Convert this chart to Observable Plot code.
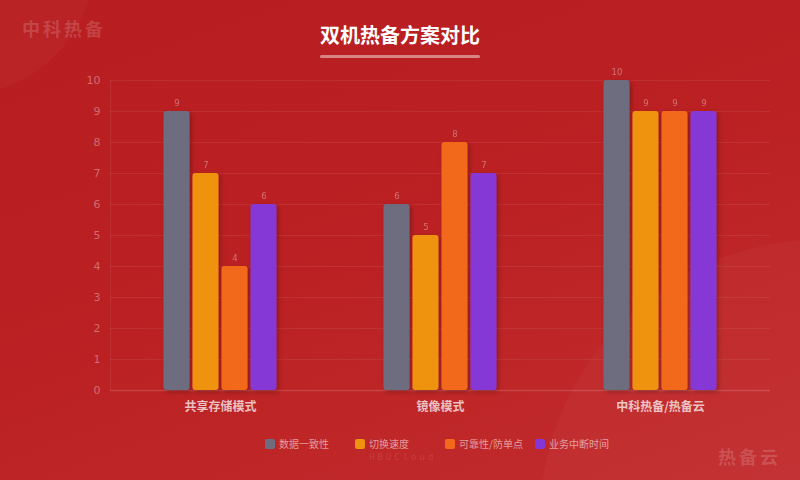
<!DOCTYPE html>
<html><head><meta charset="utf-8">
<script src="https://cdn.jsdelivr.net/npm/d3@7"></script>
<script src="https://cdn.jsdelivr.net/npm/@observablehq/plot@0.6"></script>
<style>
html,body{margin:0;padding:0;}
#wrap{position:relative;width:800px;height:480px;overflow:hidden;
 background:linear-gradient(160deg,#b81e21 0%,#bb2123 50%,#c22c2e 100%);
 font-family:"Noto Sans CJK SC","Noto Sans",sans-serif;}
.circ{position:absolute;border-radius:50%;}
#chart{position:absolute;left:0;top:0;}
#title{position:absolute;left:0;width:800px;top:20px;text-align:center;color:#fff;font-size:20px;font-weight:bold;}
#uline{position:absolute;left:320px;top:55px;width:160px;height:3px;border-radius:2px;background:rgba(255,255,255,0.45);}
.wm{position:absolute;color:rgba(255,255,255,0.16);font-weight:bold;letter-spacing:3px;}
#legend{position:absolute;top:436px;left:0;width:800px;height:20px;}
.li{position:absolute;top:0;font-size:10px;color:rgba(255,255,255,0.55);line-height:14px;}
.li span.sw{position:absolute;left:0;top:3px;width:10px;height:10px;border-radius:2px;}
.li span.t{position:absolute;left:14px;top:1px;white-space:nowrap;}
#hbu{position:absolute;left:369px;top:452px;font-family:"DejaVu Sans Mono",monospace;font-size:9px;line-height:10px;letter-spacing:3px;color:rgba(255,255,255,0.12);}
</style></head>
<body><div id="wrap">
<div class="circ" style="left:-175px;top:-175px;width:270px;height:270px;background:rgba(255,255,255,0.025);"></div>
<div class="circ" style="left:540px;top:240px;width:560px;height:560px;background:rgba(255,255,255,0.03);"></div>
<div id="chart"></div>
<div id="title">双机热备方案对比</div>
<div id="uline"></div>
<div class="wm" style="left:22px;top:15px;font-size:18px;">中科热备</div>
<div class="wm" style="left:718px;top:443px;font-size:18px;">热备云</div>
<div id="hbu">HBUCloud</div>
<div id="legend"></div>
</div>
<script>
const categories = ["共享存储模式","镜像模式","中科热备/热备云"];
const seriesNames = ["数据一致性","切换速度","可靠性/防单点","业务中断时间"];
const seriesColors = ["#6e6d80","#ef9210","#f2691b","#8537d5"];
const valuesConsistency = [9,6,10];
const valuesSwitchSpeed = [7,5,9];
const valuesReliability = [4,8,9];
const valuesDowntime = [6,7,9];
const yTicks = [0,1,2,3,4,5,6,7,8,9,10];

const allValues = [valuesConsistency,valuesSwitchSpeed,valuesReliability,valuesDowntime];
const data = [];
categories.forEach((c,i)=>seriesNames.forEach((s,j)=>data.push({cat:c,series:s,value:allValues[j][i]})));

const plot = Plot.plot({
  width:800, height:480,
  marginTop:80, marginBottom:90, marginLeft:110, marginRight:30,
  style:{background:"transparent",fontFamily:"'Noto Sans CJK SC','Noto Sans',sans-serif"},
  fx:{domain:categories, padding:0, round:false, label:null, tickSize:0, tickPadding:12},
  x:{domain:seriesNames, axis:null, round:false, paddingInner:0.1034, paddingOuter:1.845},
  y:{domain:[0,10], ticks:yTicks, label:null, tickSize:0, tickPadding:10},
  color:{domain:seriesNames, range:seriesColors},
  marks:[
    Plot.ruleY(yTicks.filter(d=>d>0),{stroke:"rgba(255,255,255,0.07)",strokeWidth:1}),
    Plot.ruleY([0],{stroke:"rgba(255,255,255,0.14)",strokeWidth:1.5}),
    Plot.barY(data,{fx:"cat",x:"series",y:"value",fill:"series",rx:3}),
    Plot.text(data,{fx:"cat",x:"series",y:"value",text:d=>String(d.value),dy:-8,fill:"rgba(255,255,255,0.35)",fontSize:8.5,fontFamily:"'DejaVu Sans',sans-serif"})
  ]
});
document.getElementById("chart").appendChild(plot);
const svg = d3.select(plot);
svg.selectAll("g[aria-label='y-axis tick label']").attr("fill","rgba(255,255,255,0.34)").style("font-size","11px").style("font-family","'DejaVu Sans',sans-serif");
svg.selectAll("g[aria-label='y-axis tick label'] text").attr("fill","rgba(255,255,255,0.34)");
svg.selectAll("g[aria-label='fx-axis tick label']").attr("fill","rgba(255,255,255,0.72)").style("font-size","12px").style("font-weight","bold");
svg.selectAll("g[aria-label='fx-axis tick label'] text").attr("fill","rgba(255,255,255,0.72)");
const yScale = plot.scale("y");
svg.append("line").attr("x1",110.5).attr("x2",110.5).attr("y1",yScale.apply(10)).attr("y2",yScale.apply(0))
  .attr("stroke","rgba(255,255,255,0.07)");
const defs = svg.insert("defs",":first-child");
defs.append("filter").attr("id","sh").attr("x","-30%").attr("y","-10%").attr("width","160%").attr("height","130%")
  .append("feDropShadow").attr("dx",2).attr("dy",2).attr("stdDeviation",2).attr("flood-color","#000").attr("flood-opacity",0.25);
svg.selectAll("g[aria-label='bar']").attr("filter","url(#sh)");

const leg = document.getElementById("legend");
const lx = [265,355,445,535];
seriesNames.forEach((s,i)=>{
  const d = document.createElement("div"); d.className="li"; d.style.left=lx[i]+"px";
  d.innerHTML = `<span class="sw" style="background:${seriesColors[i]}"></span><span class="t">${s}</span>`;
  leg.appendChild(d);
});
</script>
</body></html>
